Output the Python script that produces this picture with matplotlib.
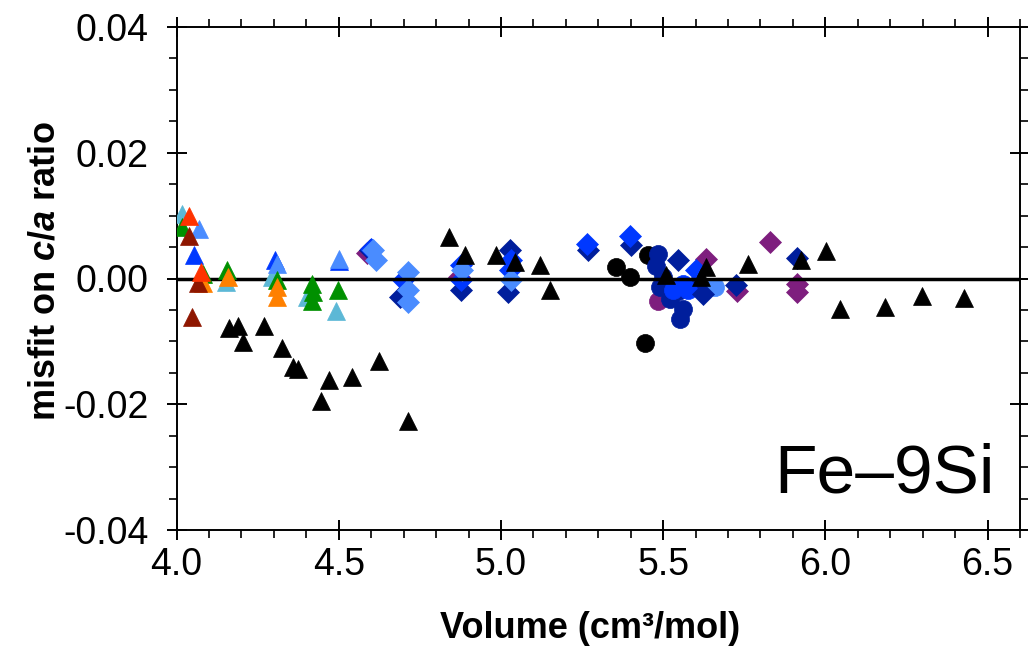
import matplotlib
matplotlib.use("Agg")
import matplotlib.pyplot as plt
from matplotlib.ticker import MultipleLocator, FixedLocator

plt.rcParams['font.family'] = ['Liberation Sans', 'DejaVu Sans']
plt.rcParams['mathtext.fontset'] = 'custom'
plt.rcParams['mathtext.rm'] = 'Liberation Sans:bold'
plt.rcParams['mathtext.bf'] = 'Liberation Sans:bold'
plt.rcParams['mathtext.it'] = 'Liberation Sans:italic:bold'
plt.rcParams['axes.unicode_minus'] = False

# ---------------- data ----------------
# colours
C_BLACK = '#000000'
C_LTCYAN = '#5CB8D6'
C_RED = '#FF3300'
C_GREEN = '#009000'
C_DARKRED = '#8E1600'
C_BLUE = '#0038FF'
C_CORN = '#4A8CFF'
C_ORANGE = '#FF8000'
C_NAVY = '#001E9C'
C_PURPLE = '#7E1E7E'

# triangles
tri_ltcyan_x = [4.016, 4.152, 4.293, 4.401, 4.491]
tri_ltcyan_y = [0.0103, -0.0005, 0.0002, -0.0030, -0.0052]
tri_blue_x = [4.055, 4.303, 4.500]
tri_blue_y = [0.0038, 0.0029, 0.0028]
tri_corn_x = [4.070, 4.308, 4.501]
tri_corn_y = [0.0079, 0.0023, 0.0031]
tri_green_x = [4.016, 4.080, 4.154, 4.310, 4.416, 4.419, 4.416, 4.498]
tri_green_y = [0.0082, 0.0007, 0.0013, -0.0003, -0.0008, -0.0022, -0.0035, -0.0018]
tri_orange_x = [4.082, 4.159, 4.310, 4.308]
tri_orange_y = [-0.0007, 0.0002, -0.0014, -0.0030]
tri_red_x = [4.037, 4.074]
tri_red_y = [0.0099, 0.0011]
tri_darkred_x = [4.038, 4.065, 4.048]
tri_darkred_y = [0.0068, -0.0007, -0.0062]
tri_black_x = [4.162, 4.190, 4.204, 4.269, 4.326, 4.358, 4.375, 4.444, 4.470,
               4.542, 4.624, 4.712, 4.840, 4.888, 4.986, 5.043, 5.120, 5.150,
               5.510, 5.618, 5.633, 5.761, 5.924, 6.001, 6.045, 6.185, 6.298, 6.428]
tri_black_y = [-0.0078, -0.0075, -0.0101, -0.0076, -0.0111, -0.0141, -0.0144, -0.0195, -0.0162,
               -0.0157, -0.0132, -0.0227, 0.0066, 0.0037, 0.0037, 0.0026, 0.0021, -0.0019,
               0.0005, 0.0002, 0.0018, 0.0023, 0.0029, 0.0044, -0.0048, -0.0046, -0.0028, -0.0031]

# diamonds
dia_purple_x = [4.588, 4.872, 5.633, 5.729, 5.830, 5.913, 5.913]
dia_purple_y = [0.0041, 0.0002, 0.0031, -0.0020, 0.0058, -0.0009, -0.0021]
dia_navy_x = [4.596, 4.688, 4.878, 5.027, 5.022, 5.268, 5.402, 5.546, 5.623, 5.725, 5.913]
dia_navy_y = [0.0045, -0.0030, -0.0019, 0.0045, -0.0022, 0.0045, 0.0053, 0.0029, -0.0025, -0.0011, 0.0032]
dia_blue_x = [4.600, 4.698, 4.878, 4.878, 5.032, 5.027, 5.265, 5.397, 5.602]
dia_blue_y = [0.0047, -0.0003, -0.0003, 0.0021, 0.0029, 0.0013, 0.0055, 0.0068, 0.0013]
dia_corn_x = [4.606, 4.616, 4.714, 4.714, 4.714, 4.880, 5.032]
dia_corn_y = [0.0046, 0.0029, 0.0010, -0.0019, -0.0038, 0.0013, -0.0003]

# circles
cir_black_x = [5.356, 5.397, 5.452, 5.445]
cir_black_y = [0.0018, 0.0002, 0.0038, -0.0103]
cir_purple_x = [5.484]
cir_purple_y = [-0.0035]
cir_navy_x = [5.484, 5.479, 5.498, 5.489, 5.520, 5.561, 5.551, 5.545, 5.600]
cir_navy_y = [0.0039, 0.0020, 0.0002, -0.0014, -0.0032, -0.0048, -0.0064, -0.0020, -0.0010]
cir_blue_x = [5.530, 5.576, 5.560]
cir_blue_y = [-0.0019, -0.0019, -0.0008]
cir_corn_x = [5.659]
cir_corn_y = [-0.0014]

x_ticks = [4.0, 4.5, 5.0, 5.5, 6.0, 6.5]
x_ticklabels = ['4.0', '4.5', '5.0', '5.5', '6.0', '6.5']
y_ticks = [-0.04, -0.02, 0.0, 0.02, 0.04]
y_ticklabels = ['-0.04', '-0.02', '0.00', '0.02', '0.04']

# ---------------- figure ----------------
W, H = 1028, 650
fig = plt.figure(figsize=(W / 100, H / 100), dpi=100)
L, R, T, B = 176.6, 1020, 27, 530
ax = fig.add_axes([L / W, (H - B) / H, (R - L) / W, (B - T) / H])

MS_TRI = 13.5
MS_DIA = 11.0
MS_CIR = 13.0


def pts(x, y, marker, color, ms, z):
    ax.plot(x, y, linestyle='none', marker=marker, ms=ms, color=color,
            mec=color, mew=0.5, zorder=z)


# circles (bottom)
pts(cir_black_x, cir_black_y, 'o', C_BLACK, MS_CIR, 2.0)
pts(cir_purple_x, cir_purple_y, 'o', C_PURPLE, MS_CIR, 2.1)
pts(cir_navy_x, cir_navy_y, 'o', C_NAVY, MS_CIR, 2.2)
pts(cir_blue_x, cir_blue_y, 'o', C_BLUE, MS_CIR, 2.3)
pts(cir_corn_x, cir_corn_y, 'o', C_CORN, MS_CIR, 2.15)

# diamonds
pts(dia_purple_x, dia_purple_y, 'D', C_PURPLE, MS_DIA, 3.0)
pts(dia_navy_x, dia_navy_y, 'D', C_NAVY, MS_DIA, 3.1)
pts(dia_blue_x, dia_blue_y, 'D', C_BLUE, MS_DIA, 3.2)
pts(dia_corn_x, dia_corn_y, 'D', C_CORN, MS_DIA, 3.3)

# zero line
ax.axhline(0.0, color='black', lw=2.5, zorder=4)

# triangles
pts(tri_ltcyan_x, tri_ltcyan_y, '^', C_LTCYAN, MS_TRI, 5.0)
pts(tri_blue_x, tri_blue_y, '^', C_BLUE, MS_TRI, 5.1)
pts(tri_corn_x, tri_corn_y, '^', C_CORN, MS_TRI, 5.2)
pts(tri_green_x, tri_green_y, '^', C_GREEN, MS_TRI, 5.3)
pts(tri_orange_x, tri_orange_y, '^', C_ORANGE, MS_TRI, 5.4)
pts(tri_darkred_x, tri_darkred_y, '^', C_DARKRED, MS_TRI, 5.5)
pts(tri_red_x, tri_red_y, '^', C_RED, MS_TRI, 5.6)
pts(tri_black_x, tri_black_y, '^', C_BLACK, MS_TRI, 6.0)

ax.set_xlim(4.0, 6.6)
ax.set_ylim(-0.04, 0.04)

ax.xaxis.set_major_locator(FixedLocator(x_ticks))
ax.set_xticklabels(x_ticklabels)
ax.xaxis.set_minor_locator(MultipleLocator(0.1))
ax.yaxis.set_major_locator(FixedLocator(y_ticks))
ax.set_yticklabels(y_ticklabels)
ax.yaxis.set_minor_locator(MultipleLocator(0.005))

for s in ax.spines.values():
    s.set_linewidth(1.4)

ax.tick_params(which='major', direction='inout', length=14, width=1.4,
               top=True, right=True, labelsize=27)
ax.tick_params(which='minor', direction='out', length=5.5, width=1.2,
               top=True, right=True)
ax.tick_params(axis='x', which='major', pad=5)
ax.tick_params(axis='y', which='major', pad=13)

ax.set_xlabel('Volume (cm³/mol)', fontsize=26, fontweight='bold', va='center')
ax.xaxis.set_label_coords(0.49, -0.195)
ax.set_ylabel(r'misfit on $\mathit{c/a}$ ratio', fontsize=26, fontweight='bold', va='center')
ax.yaxis.set_label_coords(-0.156, 0.515)

ax.text(0.970, 0.0736, 'Fe–9Si', transform=ax.transAxes, ha='right',
        va='baseline', fontsize=50, zorder=10)

fig.savefig('out.png', dpi=100)
